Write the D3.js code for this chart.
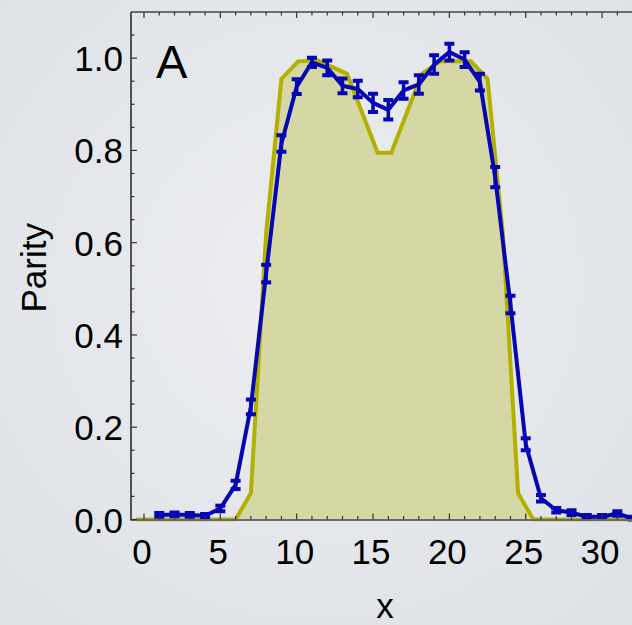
<!DOCTYPE html>
<html>
<head>
<meta charset="utf-8">
<script src="https://cdn.jsdelivr.net/npm/d3@7"></script>
<style>
html,body{margin:0;padding:0;background:#e6e8ec;}
svg{display:block;}
text{font-family:"Liberation Sans",Arial,Helvetica,sans-serif;fill:#000;}
</style>
</head>
<body>
<svg id="chart" width="632" height="625"></svg>
<script>
// ---- data ----
const dataX = [1,2,3,4,5,6,7,8,9,10,11,12,13,14,15,16,17,18,19,20,21,22,23,24,25,26,27,28,29,30,31,32];
const parity = [0.010,0.011,0.010,0.008,0.024,0.075,0.244,0.533,0.815,0.938,0.991,0.979,0.940,0.933,0.903,0.888,0.930,0.943,0.986,1.013,0.997,0.948,0.742,0.466,0.163,0.046,0.020,0.015,0.006,0.006,0.013,0.002];
const parityErr = [0.004,0.004,0.004,0.004,0.006,0.009,0.016,0.019,0.018,0.016,0.010,0.016,0.016,0.018,0.020,0.021,0.018,0.020,0.020,0.018,0.016,0.018,0.022,0.019,0.013,0.007,0.005,0.005,0.004,0.004,0.005,0.004];
const theoryX = [-0.5,6,7,8,9,10.1,11.4,13.3,15.3,16.2,18.2,19.4,21.4,22.5,23.5,24.5,25.5,33];
const theoryY = [0,0,0.057,0.62,0.955,0.993,0.995,0.966,0.795,0.795,0.966,0.993,0.993,0.955,0.62,0.057,0,0];
const xTickLabels = [0,5,10,15,20,25,30];
const yTickLabels = [0.0,0.2,0.4,0.6,0.8,1.0];
const panelLabel = "A";
const xTitle = "x";
const yTitle = "Parity";

// ---- layout ----
const W = 632, H = 625;
const mLeft = 131, mRight = 632, mTop = 12, mBottom = 519.5;
const fs = 35;
const svg = d3.select("#chart");

const defs = svg.append("defs");
const grad = defs.append("radialGradient").attr("id","bg").attr("cx","50%").attr("cy","45%").attr("r","75%");
grad.append("stop").attr("offset","0%").attr("stop-color","#eceef1");
grad.append("stop").attr("offset","100%").attr("stop-color","#dde0e5");
svg.append("rect").attr("width",W).attr("height",H).attr("fill","url(#bg)");

defs.append("clipPath").attr("id","clip").append("rect")
  .attr("x",mLeft).attr("y",mTop).attr("width",mRight-mLeft).attr("height",mBottom-mTop+2);

const x = d3.scaleLinear().domain([-0.851,31.96]).range([mLeft,mRight]);
const y = d3.scaleLinear().domain([0,1.1]).range([mBottom,mTop]);

const theory = theoryX.map((v,i)=>({x:v,y:theoryY[i]}));
const pts = dataX.map((v,i)=>({x:v,y:parity[i],e:parityErr[i]}));

const g = svg.append("g").attr("clip-path","url(#clip)");

// theory area
g.append("path").datum(theory)
  .attr("d", d3.area().x(d=>x(d.x)).y0(y(0)).y1(d=>y(d.y)))
  .attr("fill","#d5d7a4");
g.append("path").datum(theory)
  .attr("d", d3.line().x(d=>x(d.x)).y(d=>y(d.y)))
  .attr("fill","none").attr("stroke","#b3b000").attr("stroke-width",4).attr("stroke-linejoin","miter");

// data line
const blue = "#0606b2";
g.append("path").datum(pts)
  .attr("d", d3.line().x(d=>x(d.x)).y(d=>y(d.y)))
  .attr("fill","none").attr("stroke",blue).attr("stroke-width",4).attr("stroke-linejoin","round");

// error bars
const eb = g.append("g").attr("stroke",blue);
pts.forEach(d=>{
  const cx = x(d.x);
  eb.append("line").attr("x1",cx).attr("x2",cx).attr("y1",y(d.y-d.e)).attr("y2",y(d.y+d.e)).attr("stroke-width",3.5);
  [d.y-d.e,d.y+d.e].forEach(v=>{
    eb.append("line").attr("x1",cx-5).attr("x2",cx+5).attr("y1",y(v)).attr("y2",y(v)).attr("stroke-width",4);
  });
});

// ---- axes / frame ----
const axCol = "#333";
const xa = svg.append("g").attr("transform",`translate(0,${mBottom})`);
xa.append("line").attr("x1",mLeft).attr("x2",mRight).attr("y1",0.5).attr("y2",0.5).attr("stroke","#6a6a6a").attr("stroke-width",2);
d3.range(0,32,1).forEach(v=>{
  const major = v%5===0;
  xa.append("line").attr("x1",x(v)).attr("x2",x(v)).attr("y1",0).attr("y2",major?-6:-3.5).attr("stroke",axCol).attr("stroke-width",1.2);
});
xTickLabels.forEach(v=>{
  xa.append("text").attr("x",x(v)-2).attr("y",44.5).attr("text-anchor","middle").attr("font-size",fs).text(v);
});
// top frame
const ta = svg.append("g");
ta.append("line").attr("x1",mLeft).attr("x2",mRight).attr("y1",mTop).attr("y2",mTop).attr("stroke","#444").attr("stroke-width",1.5);
d3.range(0,32,1).forEach(v=>{
  const major = v%5===0;
  ta.append("line").attr("x1",x(v)).attr("x2",x(v)).attr("y1",mTop).attr("y2",mTop+(major?6:3.5)).attr("stroke",axCol).attr("stroke-width",1.2);
});
// left axis
const la = svg.append("g");
la.append("line").attr("x1",mLeft).attr("x2",mLeft).attr("y1",mTop).attr("y2",mBottom+1).attr("stroke","#222").attr("stroke-width",1.5);
d3.range(0,22,1).map(i=>i*0.05).forEach((v,i)=>{
  const major = i%4===0;
  la.append("line").attr("x1",mLeft).attr("x2",mLeft+(major?6:3.5)).attr("y1",y(v)).attr("y2",y(v)).attr("stroke",axCol).attr("stroke-width",1.2);
});
yTickLabels.forEach(v=>{
  la.append("text").attr("x",123).attr("y",y(v)+13).attr("text-anchor","end").attr("font-size",fs).text(d3.format(".1f")(v));
});

// titles
svg.append("text").attr("x",385).attr("y",618).attr("text-anchor","middle").attr("font-size",fs).text(xTitle);
svg.append("text").attr("transform",`translate(46,${(mTop+mBottom)/2+2})rotate(-90)`).attr("text-anchor","middle").attr("font-size",fs).text(yTitle);
svg.append("text").attr("x",156).attr("y",78).attr("font-size",47).text(panelLabel);
</script>
</body>
</html>
